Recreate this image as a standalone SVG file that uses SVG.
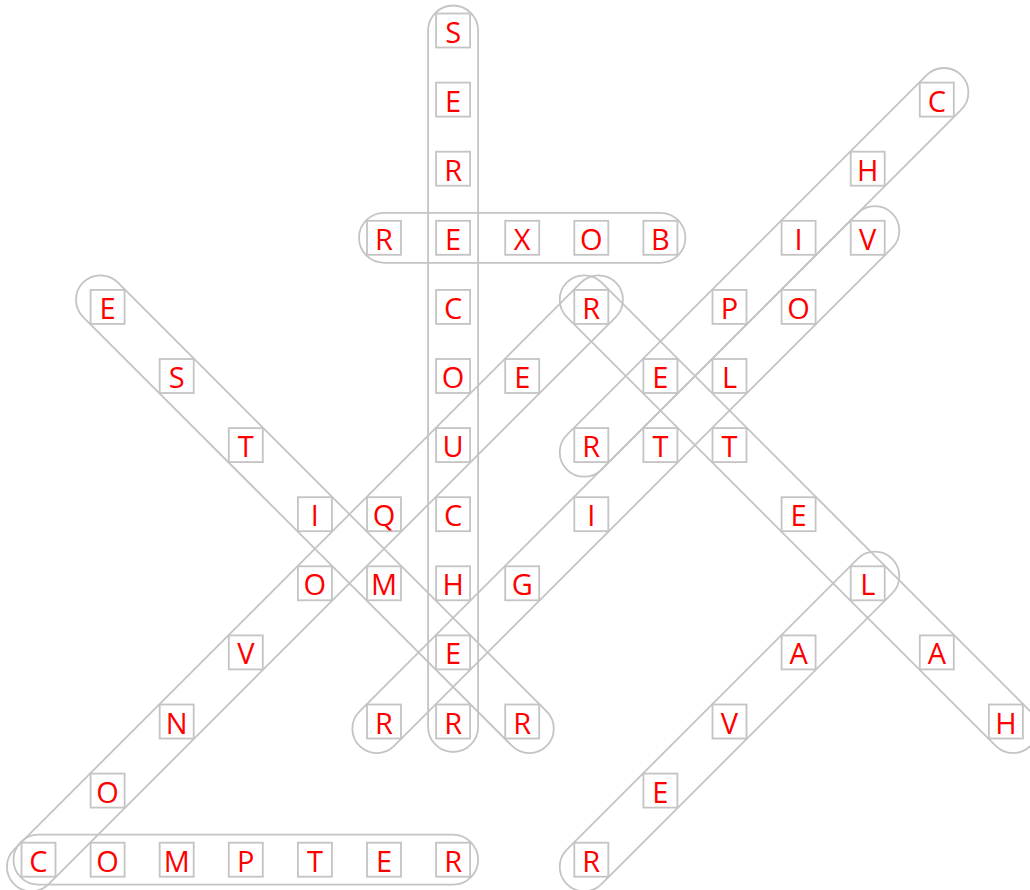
<svg xmlns="http://www.w3.org/2000/svg" width="1030" height="890" viewBox="0 0 1030 890">
<style>
.loop{fill:none;stroke:#c4c4c4;stroke-width:1.8}
.box{fill:none;stroke:#c4c4c4;stroke-width:1.8}
.ch{fill:#ff0000;font-family:"Open Sans","Noto Sans",sans-serif;font-size:29px;text-anchor:middle}
</style>
<rect width="1030" height="890" fill="#ffffff"/>
<g id="loops">
<rect class="loop" x="428.1" y="5.5" width="50" height="746.5" rx="25"/>
<rect class="loop" x="359" y="212.8" width="326.4" height="50" rx="25"/>
<rect class="loop" x="13.5" y="834.7" width="464.6" height="50" rx="25"/>
<rect class="loop" x="-327.7" y="-24.43" width="655.4" height="48.87" rx="24.43" transform="translate(314.9 514.2) rotate(45)"/>
<rect class="loop" x="-425.45" y="-24.43" width="850.9" height="48.87" rx="24.43" transform="translate(314.9 583.3) rotate(-45)"/>
<rect class="loop" x="-327.7" y="-24.43" width="655.4" height="48.87" rx="24.43" transform="translate(798.6 514.2) rotate(45)"/>
<rect class="loop" x="-278.85" y="-24.43" width="557.7" height="48.87" rx="24.43" transform="translate(764.05 272.35) rotate(-45)"/>
<rect class="loop" x="-376.6" y="-24.43" width="753.2" height="48.87" rx="24.43" transform="translate(625.85 479.65) rotate(-45)"/>
<rect class="loop" x="-230" y="-24.43" width="460" height="48.87" rx="24.43" transform="translate(729.5 721.5) rotate(-45)"/>
</g>
<g id="c0-6" transform="translate(453.1 30.5)"><rect class="box" x="-17" y="-17" width="34" height="34"/><text class="ch" y="12">S</text></g>
<g id="c1-6" transform="translate(453.1 99.6)"><rect class="box" x="-17" y="-17" width="34" height="34"/><text class="ch" y="12">E</text></g>
<g id="c1-13" transform="translate(936.8 99.6)"><rect class="box" x="-17" y="-17" width="34" height="34"/><text class="ch" y="12">C</text></g>
<g id="c2-6" transform="translate(453.1 168.7)"><rect class="box" x="-17" y="-17" width="34" height="34"/><text class="ch" y="12">R</text></g>
<g id="c2-12" transform="translate(867.7 168.7)"><rect class="box" x="-17" y="-17" width="34" height="34"/><text class="ch" y="12">H</text></g>
<g id="c3-5" transform="translate(384 237.8)"><rect class="box" x="-17" y="-17" width="34" height="34"/><text class="ch" y="12">R</text></g>
<g id="c3-6" transform="translate(453.1 237.8)"><rect class="box" x="-17" y="-17" width="34" height="34"/><text class="ch" y="12">E</text></g>
<g id="c3-7" transform="translate(522.2 237.8)"><rect class="box" x="-17" y="-17" width="34" height="34"/><text class="ch" y="12">X</text></g>
<g id="c3-8" transform="translate(591.3 237.8)"><rect class="box" x="-17" y="-17" width="34" height="34"/><text class="ch" y="12">O</text></g>
<g id="c3-9" transform="translate(660.4 237.8)"><rect class="box" x="-17" y="-17" width="34" height="34"/><text class="ch" y="12">B</text></g>
<g id="c3-11" transform="translate(798.6 237.8)"><rect class="box" x="-17" y="-17" width="34" height="34"/><text class="ch" y="12">I</text></g>
<g id="c3-12" transform="translate(867.7 237.8)"><rect class="box" x="-17" y="-17" width="34" height="34"/><text class="ch" y="12">V</text></g>
<g id="c4-1" transform="translate(107.6 306.9)"><rect class="box" x="-17" y="-17" width="34" height="34"/><text class="ch" y="12">E</text></g>
<g id="c4-6" transform="translate(453.1 306.9)"><rect class="box" x="-17" y="-17" width="34" height="34"/><text class="ch" y="12">C</text></g>
<g id="c4-8" transform="translate(591.3 306.9)"><rect class="box" x="-17" y="-17" width="34" height="34"/><text class="ch" y="12">R</text></g>
<g id="c4-10" transform="translate(729.5 306.9)"><rect class="box" x="-17" y="-17" width="34" height="34"/><text class="ch" y="12">P</text></g>
<g id="c4-11" transform="translate(798.6 306.9)"><rect class="box" x="-17" y="-17" width="34" height="34"/><text class="ch" y="12">O</text></g>
<g id="c5-2" transform="translate(176.7 376)"><rect class="box" x="-17" y="-17" width="34" height="34"/><text class="ch" y="12">S</text></g>
<g id="c5-6" transform="translate(453.1 376)"><rect class="box" x="-17" y="-17" width="34" height="34"/><text class="ch" y="12">O</text></g>
<g id="c5-7" transform="translate(522.2 376)"><rect class="box" x="-17" y="-17" width="34" height="34"/><text class="ch" y="12">E</text></g>
<g id="c5-9" transform="translate(660.4 376)"><rect class="box" x="-17" y="-17" width="34" height="34"/><text class="ch" y="12">E</text></g>
<g id="c5-10" transform="translate(729.5 376)"><rect class="box" x="-17" y="-17" width="34" height="34"/><text class="ch" y="12">L</text></g>
<g id="c6-3" transform="translate(245.8 445.1)"><rect class="box" x="-17" y="-17" width="34" height="34"/><text class="ch" y="12">T</text></g>
<g id="c6-6" transform="translate(453.1 445.1)"><rect class="box" x="-17" y="-17" width="34" height="34"/><text class="ch" y="12">U</text></g>
<g id="c6-8" transform="translate(591.3 445.1)"><rect class="box" x="-17" y="-17" width="34" height="34"/><text class="ch" y="12">R</text></g>
<g id="c6-9" transform="translate(660.4 445.1)"><rect class="box" x="-17" y="-17" width="34" height="34"/><text class="ch" y="12">T</text></g>
<g id="c6-10" transform="translate(729.5 445.1)"><rect class="box" x="-17" y="-17" width="34" height="34"/><text class="ch" y="12">T</text></g>
<g id="c7-4" transform="translate(314.9 514.2)"><rect class="box" x="-17" y="-17" width="34" height="34"/><text class="ch" y="12">I</text></g>
<g id="c7-5" transform="translate(384 514.2)"><rect class="box" x="-17" y="-17" width="34" height="34"/><text class="ch" y="12">Q</text></g>
<g id="c7-6" transform="translate(453.1 514.2)"><rect class="box" x="-17" y="-17" width="34" height="34"/><text class="ch" y="12">C</text></g>
<g id="c7-8" transform="translate(591.3 514.2)"><rect class="box" x="-17" y="-17" width="34" height="34"/><text class="ch" y="12">I</text></g>
<g id="c7-11" transform="translate(798.6 514.2)"><rect class="box" x="-17" y="-17" width="34" height="34"/><text class="ch" y="12">E</text></g>
<g id="c8-4" transform="translate(314.9 583.3)"><rect class="box" x="-17" y="-17" width="34" height="34"/><text class="ch" y="12">O</text></g>
<g id="c8-5" transform="translate(384 583.3)"><rect class="box" x="-17" y="-17" width="34" height="34"/><text class="ch" y="12">M</text></g>
<g id="c8-6" transform="translate(453.1 583.3)"><rect class="box" x="-17" y="-17" width="34" height="34"/><text class="ch" y="12">H</text></g>
<g id="c8-7" transform="translate(522.2 583.3)"><rect class="box" x="-17" y="-17" width="34" height="34"/><text class="ch" y="12">G</text></g>
<g id="c8-12" transform="translate(867.7 583.3)"><rect class="box" x="-17" y="-17" width="34" height="34"/><text class="ch" y="12">L</text></g>
<g id="c9-3" transform="translate(245.8 652.4)"><rect class="box" x="-17" y="-17" width="34" height="34"/><text class="ch" y="12">V</text></g>
<g id="c9-6" transform="translate(453.1 652.4)"><rect class="box" x="-17" y="-17" width="34" height="34"/><text class="ch" y="12">E</text></g>
<g id="c9-11" transform="translate(798.6 652.4)"><rect class="box" x="-17" y="-17" width="34" height="34"/><text class="ch" y="12">A</text></g>
<g id="c9-13" transform="translate(936.8 652.4)"><rect class="box" x="-17" y="-17" width="34" height="34"/><text class="ch" y="12">A</text></g>
<g id="c10-2" transform="translate(176.7 721.5)"><rect class="box" x="-17" y="-17" width="34" height="34"/><text class="ch" y="12">N</text></g>
<g id="c10-5" transform="translate(384 721.5)"><rect class="box" x="-17" y="-17" width="34" height="34"/><text class="ch" y="12">R</text></g>
<g id="c10-6" transform="translate(453.1 721.5)"><rect class="box" x="-17" y="-17" width="34" height="34"/><text class="ch" y="12">R</text></g>
<g id="c10-7" transform="translate(522.2 721.5)"><rect class="box" x="-17" y="-17" width="34" height="34"/><text class="ch" y="12">R</text></g>
<g id="c10-10" transform="translate(729.5 721.5)"><rect class="box" x="-17" y="-17" width="34" height="34"/><text class="ch" y="12">V</text></g>
<g id="c10-14" transform="translate(1005.9 721.5)"><rect class="box" x="-17" y="-17" width="34" height="34"/><text class="ch" y="12">H</text></g>
<g id="c11-1" transform="translate(107.6 790.6)"><rect class="box" x="-17" y="-17" width="34" height="34"/><text class="ch" y="12">O</text></g>
<g id="c11-9" transform="translate(660.4 790.6)"><rect class="box" x="-17" y="-17" width="34" height="34"/><text class="ch" y="12">E</text></g>
<g id="c12-0" transform="translate(38.5 859.7)"><rect class="box" x="-17" y="-17" width="34" height="34"/><text class="ch" y="12">C</text></g>
<g id="c12-1" transform="translate(107.6 859.7)"><rect class="box" x="-17" y="-17" width="34" height="34"/><text class="ch" y="12">O</text></g>
<g id="c12-2" transform="translate(176.7 859.7)"><rect class="box" x="-17" y="-17" width="34" height="34"/><text class="ch" y="12">M</text></g>
<g id="c12-3" transform="translate(245.8 859.7)"><rect class="box" x="-17" y="-17" width="34" height="34"/><text class="ch" y="12">P</text></g>
<g id="c12-4" transform="translate(314.9 859.7)"><rect class="box" x="-17" y="-17" width="34" height="34"/><text class="ch" y="12">T</text></g>
<g id="c12-5" transform="translate(384 859.7)"><rect class="box" x="-17" y="-17" width="34" height="34"/><text class="ch" y="12">E</text></g>
<g id="c12-6" transform="translate(453.1 859.7)"><rect class="box" x="-17" y="-17" width="34" height="34"/><text class="ch" y="12">R</text></g>
<g id="c12-8" transform="translate(591.3 859.7)"><rect class="box" x="-17" y="-17" width="34" height="34"/><text class="ch" y="12">R</text></g>
</svg>
